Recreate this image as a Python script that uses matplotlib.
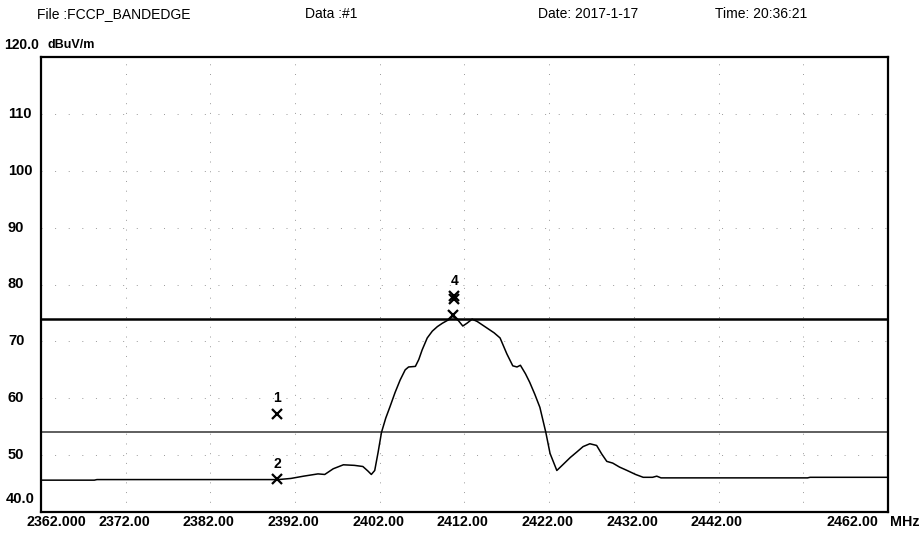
import numpy as np
import matplotlib.pyplot as plt
import matplotlib.transforms as mtransforms

# trace (MHz, dBuV/m)
freq = [2362.0, 2368.3, 2368.6, 2390.0, 2391.5, 2393.0, 2394.7, 2395.5, 2396.5,
        2397.7, 2399.0, 2400.0, 2400.6, 2401.0, 2401.4, 2401.8, 2402.2, 2402.7,
        2403.2, 2403.8, 2404.4, 2405.0, 2405.4, 2406.2, 2406.6, 2407.0, 2407.6,
        2408.2, 2408.8, 2409.4, 2410.0, 2410.6, 2411.2, 2411.8, 2412.3, 2412.9,
        2413.5, 2414.6, 2415.5, 2416.2, 2417.0, 2417.7, 2418.2, 2418.6, 2419.2,
        2419.7, 2420.3, 2420.9, 2421.6, 2422.1, 2422.9, 2423.6, 2424.5, 2425.3,
        2426.0, 2426.8, 2427.6, 2428.2, 2428.8, 2429.5, 2430.3, 2431.2, 2432.2,
        2433.1, 2434.2, 2434.7, 2435.2, 2452.5, 2452.8, 2462.0]
level = [45.6, 45.6, 45.7, 45.7, 45.9, 46.3, 46.7, 46.6, 47.6,
         48.3, 48.2, 48.0, 47.2, 46.6, 47.3, 50.5, 54.0, 56.5,
         58.5, 61.0, 63.2, 65.0, 65.5, 65.6, 66.8, 68.5, 70.6,
         71.8, 72.6, 73.2, 73.7, 74.4, 73.8, 72.7, 73.2, 73.9,
         73.5, 72.4, 71.5, 70.6, 67.8, 65.7, 65.5, 65.8, 64.3,
         62.8, 60.7, 58.4, 54.0, 50.3, 47.3, 48.3, 49.6, 50.6,
         51.5, 52.0, 51.7, 50.2, 48.9, 48.6, 47.9, 47.3, 46.6,
         46.1, 46.1, 46.3, 46.0, 46.0, 46.1, 46.1]

limits = [74, 54]

marker_freq = [2389.9, 2389.9, 2410.6, 2410.8, 2410.8]
marker_level = [57.3, 45.8, 74.7, 77.4, 78.0]
marker_text = ['1', '2', '', '', '4']

xgrid = [2372, 2382, 2392, 2402, 2412, 2422, 2432, 2442, 2452]
ygrid = [50, 60, 70, 80, 90, 100, 110]
xlabels = {2362: '2362.000', 2372: '2372.00', 2382: '2382.00', 2392: '2392.00',
           2402: '2402.00', 2412: '2412.00', 2422: '2422.00', 2432: '2432.00',
           2442: '2442.00', 2462: '2462.00'}
ylabels = {110: '110', 100: '100', 90: '90', 80: '80', 70: '70', 60: '60', 50: '50'}

plt.rcParams['font.family'] = ['Liberation Sans', 'DejaVu Sans']

fig = plt.figure(figsize=(9.2, 5.35), dpi=100)
ax = fig.add_axes([41/920, 1 - 512/535, 847/920, 455/535])
ax.set_xlim(2362, 2462)
ax.set_ylim(40, 120)
ax.set_xticks([])
ax.set_yticks([])
for s in ax.spines.values():
    s.set_linewidth(1.6)
    s.set_color('black')

# sparse dotted grid
for x in xgrid:
    ax.axvline(x, color='#999999', lw=0.7, ls=(0, (1, 9)), zorder=1)
for y in ygrid:
    ax.axhline(y, color='#999999', lw=0.7, ls=(0, (1, 13)), zorder=1)

ax.axhline(limits[0], color='black', lw=1.8, zorder=2)
ax.axhline(limits[1], color='#333333', lw=1.1, zorder=2)

ax.plot(freq, level, color='black', lw=1.1, zorder=3)

ax.plot(marker_freq, marker_level, ls='none', marker='x', color='black',
        ms=7, mew=1.6, zorder=4)
for f, l, t in zip(marker_freq, marker_level, marker_text):
    if t:
        ax.annotate(t, (f, l), xytext=(0, 6), textcoords='offset points',
                    ha='center', va='bottom', fontsize=10, fontweight='bold')

# axis labels, placed like the analyser printout
ty = mtransforms.blended_transform_factory(fig.transFigure, ax.transData)
for v, t in ylabels.items():
    ax.text(8/920, v, t, transform=ty, ha='left', va='center',
            fontsize=10.5, fontweight='bold')
ax.text(6/920, 42.3, '40.0', transform=ty, ha='left', va='center',
        fontsize=10.5, fontweight='bold')
fig.text(4/920, 1 - 45/535, '120.0', ha='left', va='center',
         fontsize=10, fontweight='bold')
fig.text(48/920, 1 - 45/535, 'dBuV/m', ha='left', va='center',
         fontsize=9, fontweight='bold')

tx = mtransforms.blended_transform_factory(ax.transData, fig.transFigure)
xy = 1 - 522/535
for v, t in xlabels.items():
    if v == 2362:
        ax.text(2360.3, xy, t, transform=tx, ha='left', va='center',
                fontsize=10.3, fontweight='bold')
    elif v == 2462:
        ax.text(2460.9, xy, t, transform=tx, ha='right', va='center',
                fontsize=10.3, fontweight='bold')
    else:
        ax.text(v - 0.2, xy, t, transform=tx, ha='center', va='center',
                fontsize=10.3, fontweight='bold')
fig.text(890/920, xy, 'MHz', ha='left', va='center', fontsize=10.3, fontweight='bold')

# header line
hy = 1 - 14/535
fig.text(37/920, hy, 'File :FCCP_BANDEDGE', ha='left', va='center', fontsize=10)
fig.text(305/920, hy, 'Data :#1', ha='left', va='center', fontsize=10)
fig.text(538/920, hy, 'Date: 2017-1-17', ha='left', va='center', fontsize=10)
fig.text(715/920, hy, 'Time: 20:36:21', ha='left', va='center', fontsize=10)

fig.savefig('out.png', dpi=100)
